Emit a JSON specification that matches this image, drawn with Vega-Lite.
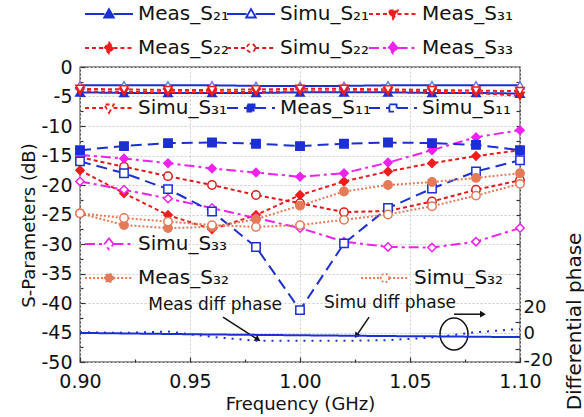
{
  "$schema": "https://vega.github.io/schema/vega-lite/v6.json",
  "width": 440,
  "height": 295,
  "autosize": {"type": "none"},
  "padding": {"left": 80, "top": 67, "right": 64, "bottom": 55},
  "background": "white",
  "config": {
    "font": "DejaVu Sans",
    "view": {"stroke": "#333333", "strokeWidth": 1.3},
    "axis": {"labelFont": "DejaVu Sans", "labelFontSize": 19, "labelColor": "#111111", "titleFont": "DejaVu Sans", "titleFontSize": 18, "titleFontWeight": "normal", "titleColor": "#111111", "tickColor": "#333333", "tickSize": -5, "tickWidth": 1.2, "domain": false, "gridColor": "#cccccc", "gridDash": [2, 2], "gridWidth": 1, "labelFlush": false, "labelOverlap": false},
    "legend": {"labelFont": "DejaVu Sans", "labelFontSize": 20, "labelColor": "#111111", "symbolSize": 400, "symbolStrokeWidth": 1.8, "labelOffset": 18, "columnPadding": -6, "rowPadding": 13, "gridAlign": "all", "padding": 0, "labelLimit": 200, "direction": "horizontal"}
  },
  "datasets": {
    "s": [
      {"series": "Meas_S₂₁", "freq": 0.90, "db": -4.3}, {"series": "Meas_S₂₁", "freq": 0.92, "db": -4.4}, {"series": "Meas_S₂₁", "freq": 0.94, "db": -4.4}, {"series": "Meas_S₂₁", "freq": 0.96, "db": -4.4}, {"series": "Meas_S₂₁", "freq": 0.98, "db": -4.4}, {"series": "Meas_S₂₁", "freq": 1.00, "db": -4.3}, {"series": "Meas_S₂₁", "freq": 1.02, "db": -4.3}, {"series": "Meas_S₂₁", "freq": 1.04, "db": -4.3}, {"series": "Meas_S₂₁", "freq": 1.06, "db": -4.4}, {"series": "Meas_S₂₁", "freq": 1.08, "db": -4.4}, {"series": "Meas_S₂₁", "freq": 1.10, "db": -4.5},
      {"series": "Simu_S₂₁", "freq": 0.90, "db": -3.1}, {"series": "Simu_S₂₁", "freq": 0.92, "db": -3.1}, {"series": "Simu_S₂₁", "freq": 0.94, "db": -3.1}, {"series": "Simu_S₂₁", "freq": 0.96, "db": -3.1}, {"series": "Simu_S₂₁", "freq": 0.98, "db": -3.2}, {"series": "Simu_S₂₁", "freq": 1.00, "db": -3.2}, {"series": "Simu_S₂₁", "freq": 1.02, "db": -3.2}, {"series": "Simu_S₂₁", "freq": 1.04, "db": -3.1}, {"series": "Simu_S₂₁", "freq": 1.06, "db": -3.1}, {"series": "Simu_S₂₁", "freq": 1.08, "db": -3.1}, {"series": "Simu_S₂₁", "freq": 1.10, "db": -3.1},
      {"series": "Meas_S₃₁", "freq": 0.90, "db": -4.1}, {"series": "Meas_S₃₁", "freq": 0.92, "db": -4.2}, {"series": "Meas_S₃₁", "freq": 0.94, "db": -4.3}, {"series": "Meas_S₃₁", "freq": 0.96, "db": -4.3}, {"series": "Meas_S₃₁", "freq": 0.98, "db": -4.2}, {"series": "Meas_S₃₁", "freq": 1.00, "db": -4.1}, {"series": "Meas_S₃₁", "freq": 1.02, "db": -4.1}, {"series": "Meas_S₃₁", "freq": 1.04, "db": -4.1}, {"series": "Meas_S₃₁", "freq": 1.06, "db": -4.2}, {"series": "Meas_S₃₁", "freq": 1.08, "db": -4.4}, {"series": "Meas_S₃₁", "freq": 1.10, "db": -4.9},
      {"series": "Simu_S₃₁", "freq": 0.90, "db": -3.7}, {"series": "Simu_S₃₁", "freq": 0.92, "db": -3.8}, {"series": "Simu_S₃₁", "freq": 0.94, "db": -3.9}, {"series": "Simu_S₃₁", "freq": 0.96, "db": -3.9}, {"series": "Simu_S₃₁", "freq": 0.98, "db": -3.8}, {"series": "Simu_S₃₁", "freq": 1.00, "db": -3.7}, {"series": "Simu_S₃₁", "freq": 1.02, "db": -3.7}, {"series": "Simu_S₃₁", "freq": 1.04, "db": -3.8}, {"series": "Simu_S₃₁", "freq": 1.06, "db": -3.9}, {"series": "Simu_S₃₁", "freq": 1.08, "db": -4.0}, {"series": "Simu_S₃₁", "freq": 1.10, "db": -4.1},
      {"series": "Meas_S₂₂", "freq": 0.90, "db": -17.5}, {"series": "Meas_S₂₂", "freq": 0.92, "db": -21.4}, {"series": "Meas_S₂₂", "freq": 0.94, "db": -25.1}, {"series": "Meas_S₂₂", "freq": 0.96, "db": -27.5}, {"series": "Meas_S₂₂", "freq": 0.98, "db": -25.1}, {"series": "Meas_S₂₂", "freq": 1.00, "db": -21.7}, {"series": "Meas_S₂₂", "freq": 1.02, "db": -19.4}, {"series": "Meas_S₂₂", "freq": 1.04, "db": -17.7}, {"series": "Meas_S₂₂", "freq": 1.06, "db": -16.3}, {"series": "Meas_S₂₂", "freq": 1.08, "db": -15.1}, {"series": "Meas_S₂₂", "freq": 1.10, "db": -14.1},
      {"series": "Simu_S₂₂", "freq": 0.90, "db": -15.3}, {"series": "Simu_S₂₂", "freq": 0.92, "db": -16.9}, {"series": "Simu_S₂₂", "freq": 0.94, "db": -18.5}, {"series": "Simu_S₂₂", "freq": 0.96, "db": -20.0}, {"series": "Simu_S₂₂", "freq": 0.98, "db": -21.7}, {"series": "Simu_S₂₂", "freq": 1.00, "db": -23.1}, {"series": "Simu_S₂₂", "freq": 1.02, "db": -24.6}, {"series": "Simu_S₂₂", "freq": 1.04, "db": -24.4}, {"series": "Simu_S₂₂", "freq": 1.06, "db": -22.8}, {"series": "Simu_S₂₂", "freq": 1.08, "db": -20.8}, {"series": "Simu_S₂₂", "freq": 1.10, "db": -19.2},
      {"series": "Meas_S₃₃", "freq": 0.90, "db": -14.9}, {"series": "Meas_S₃₃", "freq": 0.92, "db": -15.5}, {"series": "Meas_S₃₃", "freq": 0.94, "db": -16.3}, {"series": "Meas_S₃₃", "freq": 0.96, "db": -17.2}, {"series": "Meas_S₃₃", "freq": 0.98, "db": -17.9}, {"series": "Meas_S₃₃", "freq": 1.00, "db": -18.6}, {"series": "Meas_S₃₃", "freq": 1.02, "db": -18.0}, {"series": "Meas_S₃₃", "freq": 1.04, "db": -16.2}, {"series": "Meas_S₃₃", "freq": 1.06, "db": -14.1}, {"series": "Meas_S₃₃", "freq": 1.08, "db": -11.9}, {"series": "Meas_S₃₃", "freq": 1.10, "db": -10.7},
      {"series": "Simu_S₃₃", "freq": 0.90, "db": -19.4}, {"series": "Simu_S₃₃", "freq": 0.92, "db": -20.8}, {"series": "Simu_S₃₃", "freq": 0.94, "db": -22.3}, {"series": "Simu_S₃₃", "freq": 0.96, "db": -23.9}, {"series": "Simu_S₃₃", "freq": 0.98, "db": -25.6}, {"series": "Simu_S₃₃", "freq": 1.00, "db": -27.3}, {"series": "Simu_S₃₃", "freq": 1.02, "db": -29.6}, {"series": "Simu_S₃₃", "freq": 1.04, "db": -30.5}, {"series": "Simu_S₃₃", "freq": 1.06, "db": -30.6}, {"series": "Simu_S₃₃", "freq": 1.08, "db": -29.6}, {"series": "Simu_S₃₃", "freq": 1.10, "db": -27.3},
      {"series": "Meas_S₁₁", "freq": 0.90, "db": -14.1}, {"series": "Meas_S₁₁", "freq": 0.92, "db": -13.4}, {"series": "Meas_S₁₁", "freq": 0.94, "db": -12.9}, {"series": "Meas_S₁₁", "freq": 0.96, "db": -12.8}, {"series": "Meas_S₁₁", "freq": 0.98, "db": -13.0}, {"series": "Meas_S₁₁", "freq": 1.00, "db": -13.4}, {"series": "Meas_S₁₁", "freq": 1.02, "db": -13.0}, {"series": "Meas_S₁₁", "freq": 1.04, "db": -12.8}, {"series": "Meas_S₁₁", "freq": 1.06, "db": -12.9}, {"series": "Meas_S₁₁", "freq": 1.08, "db": -13.2}, {"series": "Meas_S₁₁", "freq": 1.10, "db": -14.1},
      {"series": "Simu_S₁₁", "freq": 0.90, "db": -16.0}, {"series": "Simu_S₁₁", "freq": 0.92, "db": -18.0}, {"series": "Simu_S₁₁", "freq": 0.94, "db": -20.7}, {"series": "Simu_S₁₁", "freq": 0.96, "db": -24.5}, {"series": "Simu_S₁₁", "freq": 0.98, "db": -30.5}, {"series": "Simu_S₁₁", "freq": 1.00, "db": -41.2}, {"series": "Simu_S₁₁", "freq": 1.02, "db": -29.9}, {"series": "Simu_S₁₁", "freq": 1.04, "db": -23.9}, {"series": "Simu_S₁₁", "freq": 1.06, "db": -20.6}, {"series": "Simu_S₁₁", "freq": 1.08, "db": -17.7}, {"series": "Simu_S₁₁", "freq": 1.10, "db": -15.8},
      {"series": "Meas_S₃₂", "freq": 0.90, "db": -24.8}, {"series": "Meas_S₃₂", "freq": 0.92, "db": -26.8}, {"series": "Meas_S₃₂", "freq": 0.94, "db": -27.3}, {"series": "Meas_S₃₂", "freq": 0.96, "db": -27.1}, {"series": "Meas_S₃₂", "freq": 0.98, "db": -25.8}, {"series": "Meas_S₃₂", "freq": 1.00, "db": -23.5}, {"series": "Meas_S₃₂", "freq": 1.02, "db": -21.1}, {"series": "Meas_S₃₂", "freq": 1.04, "db": -20.0}, {"series": "Meas_S₃₂", "freq": 1.06, "db": -19.5}, {"series": "Meas_S₃₂", "freq": 1.08, "db": -18.8}, {"series": "Meas_S₃₂", "freq": 1.10, "db": -18.0},
      {"series": "Simu_S₃₂", "freq": 0.90, "db": -24.8}, {"series": "Simu_S₃₂", "freq": 0.92, "db": -25.6}, {"series": "Simu_S₃₂", "freq": 0.94, "db": -26.2}, {"series": "Simu_S₃₂", "freq": 0.96, "db": -26.8}, {"series": "Simu_S₃₂", "freq": 0.98, "db": -27.1}, {"series": "Simu_S₃₂", "freq": 1.00, "db": -26.8}, {"series": "Simu_S₃₂", "freq": 1.02, "db": -25.9}, {"series": "Simu_S₃₂", "freq": 1.04, "db": -25.0}, {"series": "Simu_S₃₂", "freq": 1.06, "db": -23.6}, {"series": "Simu_S₃₂", "freq": 1.08, "db": -21.8}, {"series": "Simu_S₃₂", "freq": 1.10, "db": -19.8}
    ],
    "phase": [
      {"series": "Meas diff phase", "freq": 0.90, "deg": 2.0}, {"series": "Meas diff phase", "freq": 0.92, "deg": 1.6}, {"series": "Meas diff phase", "freq": 0.94, "deg": 1.2}, {"series": "Meas diff phase", "freq": 0.96, "deg": 0.8}, {"series": "Meas diff phase", "freq": 0.98, "deg": 0.5}, {"series": "Meas diff phase", "freq": 1.00, "deg": 0.2}, {"series": "Meas diff phase", "freq": 1.02, "deg": -0.1}, {"series": "Meas diff phase", "freq": 1.04, "deg": -0.4}, {"series": "Meas diff phase", "freq": 1.06, "deg": -0.6}, {"series": "Meas diff phase", "freq": 1.08, "deg": -0.9}, {"series": "Meas diff phase", "freq": 1.10, "deg": -1.2},
      {"series": "Simu diff phase", "freq": 0.90, "deg": 2.5}, {"series": "Simu diff phase", "freq": 0.92, "deg": 2.0}, {"series": "Simu diff phase", "freq": 0.94, "deg": 3.0}, {"series": "Simu diff phase", "freq": 0.96, "deg": -1.0}, {"series": "Simu diff phase", "freq": 0.98, "deg": -4.0}, {"series": "Simu diff phase", "freq": 1.00, "deg": -4.0}, {"series": "Simu diff phase", "freq": 1.02, "deg": -4.0}, {"series": "Simu diff phase", "freq": 1.04, "deg": -3.5}, {"series": "Simu diff phase", "freq": 1.06, "deg": -1.5}, {"series": "Simu diff phase", "freq": 1.08, "deg": 2.5}, {"series": "Simu diff phase", "freq": 1.10, "deg": 5.0}
    ],
    "notes": [
      {"label": "Meas diff phase", "freq": 0.9614, "db": -40.3},
      {"label": "Simu diff phase", "freq": 1.0409, "db": -40.0}
    ],
    "arrows": [
      {"id": "meas", "freq": 0.965, "db": -42.4, "freq2": 0.9805, "db2": -46.1},
      {"id": "simu", "freq": 1.0314, "db": -42.4, "freq2": 1.0259, "db2": -45.4},
      {"id": "ring", "freq": 1.07, "db": -41.9, "freq2": 1.0827, "db2": -41.9}
    ],
    "ring": [
      {"freq": 1.07, "db": -45.25}
    ]
  },
  "layer": [
    {
      "data": {"name": "s"},
      "mark": {"type": "line", "strokeWidth": 2},
      "encoding": {
        "x": {"field": "freq", "type": "quantitative", "scale": {"domain": [0.9, 1.1], "nice": false, "zero": false},
          "axis": {"orient": "bottom", "title": "Frequency (GHz)", "values": [0.9, 0.95, 1.0, 1.05, 1.1], "format": ".2f", "labelPadding": 15, "titleY": 42, "titleBaseline": "middle", "grid": true}},
        "y": {"field": "db", "type": "quantitative", "scale": {"domain": [-50, 0], "nice": false, "zero": false},
          "axis": {"orient": "left", "title": "S-Parameters (dB)", "values": [0, -5, -10, -15, -20, -25, -30, -35, -40, -45, -50], "labelExpr": "toString(datum.value)", "labelPadding": 13, "titleAngle": 270, "titleX": -51, "titleY": 158, "titleBaseline": "middle", "grid": true}},
        "stroke": {"field": "series", "type": "nominal", "legend": null,
          "scale": {"domain": ["Meas_S₂₁", "Simu_S₂₁", "Meas_S₃₁", "Meas_S₂₂", "Simu_S₂₂", "Meas_S₃₃", "Simu_S₃₁", "Meas_S₁₁", "Simu_S₁₁", "Simu_S₃₃", "Meas_S₃₂", "Simu_S₃₂"],
            "range": ["#1b2fd3", "#1b2fd3", "#ee1c1c", "#ee1c1c", "#e01818", "#ee22ee", "#ee1c1c", "#1b2fd3", "#1b2fd3", "#ee22ee", "#e47a58", "#e47a58"]}},
        "strokeDash": {"field": "series", "type": "nominal", "legend": null,
          "scale": {"domain": ["Meas_S₂₁", "Simu_S₂₁", "Meas_S₃₁", "Meas_S₂₂", "Simu_S₂₂", "Meas_S₃₃", "Simu_S₃₁", "Meas_S₁₁", "Simu_S₁₁", "Simu_S₃₃", "Meas_S₃₂", "Simu_S₃₂"],
            "range": [[1, 0], [1, 0], [4, 3], [4, 3], [4, 3], [10, 4, 3, 4], [4, 3], [11, 6], [11, 6], [10, 4, 3, 4], [2, 2], [2, 2]]}}
      }
    },
    {
      "data": {"name": "s"},
      "mark": {"type": "point", "size": 70, "strokeWidth": 1.5, "opacity": 1},
      "encoding": {
        "x": {"field": "freq", "type": "quantitative", "axis": null},
        "y": {"field": "db", "type": "quantitative", "scale": {"domain": [-50, 0], "nice": false, "zero": false},
          "axis": {"orient": "left", "values": [-2.5, -7.5, -12.5, -17.5, -22.5, -27.5, -32.5, -37.5, -42.5, -47.5], "labels": false, "title": null, "grid": false, "tickSize": -3}},
        "shape": {"field": "series", "type": "nominal", "legend": null,
          "scale": {"domain": ["Meas_S₂₁", "Simu_S₂₁", "Meas_S₃₁", "Meas_S₂₂", "Simu_S₂₂", "Meas_S₃₃", "Simu_S₃₁", "Meas_S₁₁", "Simu_S₁₁", "Simu_S₃₃", "Meas_S₃₂", "Simu_S₃₂"],
            "range": ["triangle-up", "triangle-up", "triangle-down", "diamond", "circle", "diamond", "triangle-down", "square", "square", "diamond", "circle", "circle"]}},
        "fill": {"field": "series", "type": "nominal", "legend": null,
          "scale": {"domain": ["Meas_S₂₁", "Simu_S₂₁", "Meas_S₃₁", "Meas_S₂₂", "Simu_S₂₂", "Meas_S₃₃", "Simu_S₃₁", "Meas_S₁₁", "Simu_S₁₁", "Simu_S₃₃", "Meas_S₃₂", "Simu_S₃₂"],
            "range": ["#1b2fd3", "#ffffff", "#ee1c1c", "#ee1c1c", "#ffffff", "#ee22ee", "#ffffff", "#1b2fd3", "#ffffff", "#ffffff", "#e47a58", "#ffffff"]}},
        "stroke": {"field": "series", "type": "nominal", "legend": null,
          "scale": {"domain": ["Meas_S₂₁", "Simu_S₂₁", "Meas_S₃₁", "Meas_S₂₂", "Simu_S₂₂", "Meas_S₃₃", "Simu_S₃₁", "Meas_S₁₁", "Simu_S₁₁", "Simu_S₃₃", "Meas_S₃₂", "Simu_S₃₂"],
            "range": ["#1b2fd3", "#6c7ae0", "#ee1c1c", "#ee1c1c", "#e01818", "#ee22ee", "#ee1c1c", "#1b2fd3", "#1b2fd3", "#ee22ee", "#e47a58", "#e47a58"]}}
      }
    },
    {
      "data": {"name": "s"},
      "transform": [{"filter": {"field": "series", "oneOf": ["Meas_S₂₁", "Simu_S₂₁", "Meas_S₃₁", "Meas_S₂₂", "Simu_S₂₂", "Meas_S₃₃"]}}],
      "mark": {"type": "point", "clip": true, "opacity": 1, "size": 400, "strokeWidth": 1.8},
      "encoding": {
        "x": {"field": "freq", "type": "quantitative", "axis": null},
        "y": {"datum": -100, "type": "quantitative", "scale": {"domain": [-50, 0], "nice": false, "zero": false},
          "axis": {"orient": "right", "values": [-2.5, -5, -7.5, -10, -12.5, -15, -17.5, -20, -22.5, -25, -27.5, -30, -32.5, -35, -37.5], "labels": false, "title": null, "grid": false, "tickSize": -4}},
        "fill": {"field": "series", "type": "nominal", "legend": {"title": null, "orient": "none", "legendX": 18, "legendY": -64, "columns": 3},
          "scale": {"domain": ["Meas_S₂₁", "Simu_S₂₁", "Meas_S₃₁", "Meas_S₂₂", "Simu_S₂₂", "Meas_S₃₃"], "range": ["#1b2fd3", "#ffffff", "#ee1c1c", "#ee1c1c", "#ffffff", "#ee22ee"]}},
        "stroke": {"field": "series", "type": "nominal", "legend": {"title": null, "orient": "none", "legendX": 18, "legendY": -64, "columns": 3},
          "scale": {"domain": ["Meas_S₂₁", "Simu_S₂₁", "Meas_S₃₁", "Meas_S₂₂", "Simu_S₂₂", "Meas_S₃₃"], "range": ["#1b2fd3", "#1b2fd3", "#ee1c1c", "#ee1c1c", "#e01818", "#ee22ee"]}},
        "shape": {"field": "series", "type": "nominal", "legend": {"title": null, "orient": "none", "legendX": 18, "legendY": -64, "columns": 3},
          "scale": {"domain": ["Meas_S₂₁", "Simu_S₂₁", "Meas_S₃₁", "Meas_S₂₂", "Simu_S₂₂", "Meas_S₃₃"], "range": [
            "M-2.4,0H-0.45M0.45,0H2.4M0,-0.5L0.48,0.35L-0.48,0.35Z",
            "M-2.4,0H-0.45M0.45,0H2.4M0,-0.5L0.48,0.35L-0.48,0.35Z",
            "M-2.4,0H-0.45M0.45,0H2.4M0,0.5L0.48,-0.35L-0.48,-0.35Z",
            "M-2.4,0H-0.45M0.45,0H2.4M0,-0.55L0.45,0L0,0.55L-0.45,0Z",
            "M-2.4,0H-0.42M0.42,0H2.4M0.42,0A0.42,0.42,0,1,1,-0.42,0A0.42,0.42,0,1,1,0.42,0Z",
            "M-2.4,0H-0.45M0.45,0H2.4M0,-0.55L0.45,0L0,0.55L-0.45,0Z"]}},
        "strokeDash": {"field": "series", "type": "nominal", "legend": {"title": null, "orient": "none", "legendX": 18, "legendY": -64, "columns": 3},
          "scale": {"domain": ["Meas_S₂₁", "Simu_S₂₁", "Meas_S₃₁", "Meas_S₂₂", "Simu_S₂₂", "Meas_S₃₃"], "range": [[1, 0], [1, 0], [4, 3], [4, 3], [4, 3], [10, 4, 3, 4]]}}
      }
    },
    {
      "data": {"name": "s"},
      "transform": [{"filter": {"field": "series", "oneOf": ["Simu_S₃₁", "Meas_S₁₁", "Simu_S₁₁"]}}],
      "mark": {"type": "point", "clip": true, "opacity": 1, "size": 400, "strokeWidth": 1.8},
      "encoding": {
        "x": {"field": "freq", "type": "quantitative",
          "axis": {"orient": "bottom", "values": [0.925, 0.975, 1.025, 1.075], "labels": false, "title": null, "grid": false, "tickSize": -3}},
        "y": {"datum": -100, "type": "quantitative", "axis": null, "scale": {"domain": [-50, 0], "nice": false, "zero": false}},
        "fill": {"field": "series", "type": "nominal", "legend": {"title": null, "orient": "none", "legendX": 18, "legendY": 30, "columns": 3},
          "scale": {"domain": ["Simu_S₃₁", "Meas_S₁₁", "Simu_S₁₁"], "range": ["#ffffff", "#1b2fd3", "#ffffff"]}},
        "stroke": {"field": "series", "type": "nominal", "legend": {"title": null, "orient": "none", "legendX": 18, "legendY": 30, "columns": 3},
          "scale": {"domain": ["Simu_S₃₁", "Meas_S₁₁", "Simu_S₁₁"], "range": ["#ee1c1c", "#1b2fd3", "#1b2fd3"]}},
        "shape": {"field": "series", "type": "nominal", "legend": {"title": null, "orient": "none", "legendX": 18, "legendY": 30, "columns": 3},
          "scale": {"domain": ["Simu_S₃₁", "Meas_S₁₁", "Simu_S₁₁"], "range": [
            "M-2.4,0H-0.45M0.45,0H2.4M0,0.5L0.48,-0.35L-0.48,-0.35Z",
            "M-2.4,0H-0.4M0.4,0H2.4M-0.36,-0.36H0.36V0.36H-0.36Z",
            "M-2.4,0H-0.4M0.4,0H2.4M-0.36,-0.36H0.36V0.36H-0.36Z"]}},
        "strokeDash": {"field": "series", "type": "nominal", "legend": {"title": null, "orient": "none", "legendX": 18, "legendY": 30, "columns": 3},
          "scale": {"domain": ["Simu_S₃₁", "Meas_S₁₁", "Simu_S₁₁"], "range": [[4, 3], [11, 6], [11, 6]]}}
      }
    },
    {
      "data": {"name": "s"},
      "transform": [{"filter": {"field": "series", "oneOf": ["Simu_S₃₃", "Meas_S₃₂"]}}],
      "mark": {"type": "point", "clip": true, "opacity": 1, "size": 400, "strokeWidth": 1.8},
      "encoding": {
        "x": {"field": "freq", "type": "quantitative", "axis": null},
        "y": {"datum": -100, "type": "quantitative", "axis": null, "scale": {"domain": [-50, 0], "nice": false, "zero": false}},
        "fill": {"field": "series", "type": "nominal", "legend": {"title": null, "orient": "none", "legendX": 18, "legendY": 166, "columns": 1},
          "scale": {"domain": ["Simu_S₃₃", "Meas_S₃₂"], "range": ["#ffffff", "#e47a58"]}},
        "stroke": {"field": "series", "type": "nominal", "legend": {"title": null, "orient": "none", "legendX": 18, "legendY": 166, "columns": 1},
          "scale": {"domain": ["Simu_S₃₃", "Meas_S₃₂"], "range": ["#ee22ee", "#e47a58"]}},
        "shape": {"field": "series", "type": "nominal", "legend": {"title": null, "orient": "none", "legendX": 18, "legendY": 166, "columns": 1},
          "scale": {"domain": ["Simu_S₃₃", "Meas_S₃₂"], "range": [
            "M-2.4,0H-0.45M0.45,0H2.4M0,-0.55L0.45,0L0,0.55L-0.45,0Z",
            "M-2.4,0H-0.42M0.42,0H2.4M0.42,0A0.42,0.42,0,1,1,-0.42,0A0.42,0.42,0,1,1,0.42,0Z"]}},
        "strokeDash": {"field": "series", "type": "nominal", "legend": {"title": null, "orient": "none", "legendX": 18, "legendY": 166, "columns": 1},
          "scale": {"domain": ["Simu_S₃₃", "Meas_S₃₂"], "range": [[10, 4, 3, 4], [2, 2]]}}
      }
    },
    {
      "data": {"name": "s"},
      "transform": [{"filter": {"field": "series", "oneOf": ["Simu_S₃₂"]}}],
      "mark": {"type": "point", "clip": true, "opacity": 1, "size": 400, "strokeWidth": 1.8},
      "encoding": {
        "x": {"field": "freq", "type": "quantitative", "axis": null},
        "y": {"datum": -100, "type": "quantitative", "axis": null, "scale": {"domain": [-50, 0], "nice": false, "zero": false}},
        "fill": {"field": "series", "type": "nominal", "legend": {"title": null, "orient": "none", "legendX": 294, "legendY": 200, "columns": 1},
          "scale": {"domain": ["Simu_S₃₂"], "range": ["#ffffff"]}},
        "stroke": {"field": "series", "type": "nominal", "legend": {"title": null, "orient": "none", "legendX": 294, "legendY": 200, "columns": 1},
          "scale": {"domain": ["Simu_S₃₂"], "range": ["#e47a58"]}},
        "shape": {"field": "series", "type": "nominal", "legend": {"title": null, "orient": "none", "legendX": 294, "legendY": 200, "columns": 1},
          "scale": {"domain": ["Simu_S₃₂"], "range": ["M-2.4,0H-0.42M0.42,0H2.4M0.42,0A0.42,0.42,0,1,1,-0.42,0A0.42,0.42,0,1,1,0.42,0Z"]}},
        "strokeDash": {"field": "series", "type": "nominal", "legend": {"title": null, "orient": "none", "legendX": 294, "legendY": 200, "columns": 1},
          "scale": {"domain": ["Simu_S₃₂"], "range": [[2, 2]]}}
      }
    },
    {
      "data": {"name": "notes"},
      "mark": {"type": "text", "fontSize": 17, "font": "DejaVu Sans", "color": "#111111"},
      "encoding": {
        "x": {"field": "freq", "type": "quantitative", "axis": null},
        "y": {"field": "db", "type": "quantitative", "axis": null, "scale": {"domain": [-50, 0], "nice": false, "zero": false}},
        "text": {"field": "label"}
      }
    },
    {
      "data": {"name": "arrows"},
      "mark": {"type": "rule", "strokeWidth": 1.5, "color": "#111111"},
      "encoding": {
        "x": {"field": "freq", "type": "quantitative", "axis": null},
        "y": {"field": "db", "type": "quantitative", "axis": null, "scale": {"domain": [-50, 0], "nice": false, "zero": false}},
        "x2": {"field": "freq2"},
        "y2": {"field": "db2"}
      }
    },
    {
      "data": {"name": "arrows"},
      "transform": [{"filter": "datum.id === 'meas'"}],
      "mark": {"type": "point", "shape": "triangle", "angle": 123, "size": 45, "filled": true, "color": "#111111", "opacity": 1},
      "encoding": {
        "x": {"field": "freq2", "type": "quantitative", "axis": null},
        "y": {"field": "db2", "type": "quantitative", "axis": null, "scale": {"domain": [-50, 0], "nice": false, "zero": false}}
      }
    },
    {
      "data": {"name": "arrows"},
      "transform": [{"filter": "datum.id === 'simu'"}],
      "mark": {"type": "point", "shape": "triangle", "angle": 214, "size": 45, "filled": true, "color": "#111111", "opacity": 1},
      "encoding": {
        "x": {"field": "freq2", "type": "quantitative", "axis": null},
        "y": {"field": "db2", "type": "quantitative", "axis": null, "scale": {"domain": [-50, 0], "nice": false, "zero": false}}
      }
    },
    {
      "data": {"name": "arrows"},
      "transform": [{"filter": "datum.id === 'ring'"}],
      "mark": {"type": "point", "shape": "triangle", "angle": 90, "size": 45, "filled": true, "color": "#111111", "opacity": 1},
      "encoding": {
        "x": {"field": "freq2", "type": "quantitative", "axis": null},
        "y": {"field": "db2", "type": "quantitative", "axis": null, "scale": {"domain": [-50, 0], "nice": false, "zero": false}}
      }
    },
    {
      "data": {"name": "ring"},
      "mark": {"type": "point", "shape": "M0.875,0A0.875,1,0,1,1,-0.875,0A0.875,1,0,1,1,0.875,0Z", "size": 1024, "filled": false, "color": "#111111", "strokeWidth": 1.5, "opacity": 1},
      "encoding": {
        "x": {"field": "freq", "type": "quantitative", "axis": null},
        "y": {"field": "db", "type": "quantitative", "axis": null, "scale": {"domain": [-50, 0], "nice": false, "zero": false}}
      }
    },
    {
      "data": {"name": "phase"},
      "mark": {"type": "line", "strokeWidth": 2, "color": "#1b2fd3"},
      "encoding": {
        "x": {"field": "freq", "type": "quantitative", "axis": null},
        "y": {"field": "deg", "type": "quantitative", "scale": {"domain": [-20, 203], "nice": false, "zero": false},
          "axis": {"orient": "right", "title": "Differential phase", "values": [-20, -10, 0, 10, 20], "labelExpr": "datum.value % 20 === 0 ? toString(datum.value) : ''", "labelPadding": 8, "labelOffset": -2, "labelFontSize": 18, "grid": false, "titleAngle": 270, "titleX": 54, "titleY": 254, "titleBaseline": "middle", "titleFontSize": 20}},
        "strokeDash": {"field": "series", "type": "nominal", "legend": null,
          "scale": {"domain": ["Meas diff phase", "Simu diff phase"], "range": [[1, 0], [2, 6]]}}
      }
    }
  ],
  "resolve": {"scale": {"y": "independent", "stroke": "independent", "fill": "independent", "shape": "independent", "strokeDash": "independent"}, "axis": {"x": "independent"}}
}
